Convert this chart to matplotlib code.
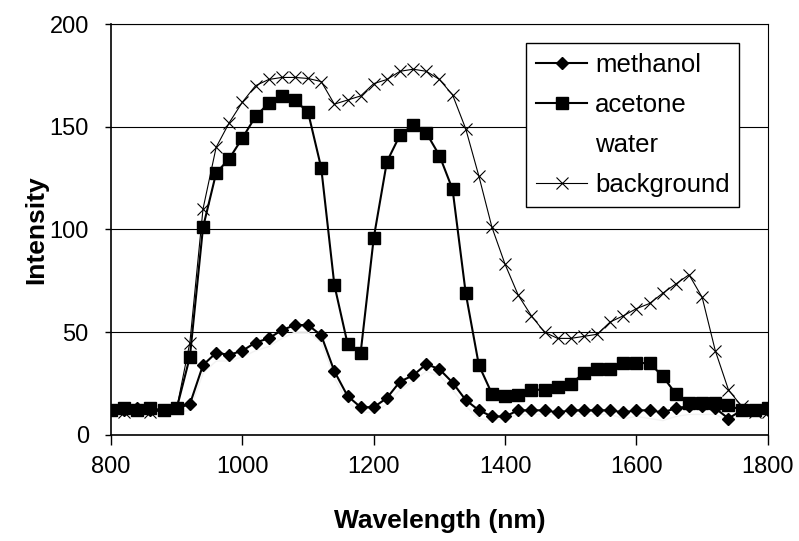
import matplotlib
matplotlib.use("Agg")
import matplotlib.pyplot as plt

plt.rcParams['font.family'] = ['Liberation Sans', 'DejaVu Sans']

# wavelength grid (nm), one reading every 20 nm
wavelength = [800, 820, 840, 860, 880, 900, 920, 940, 960, 980,
              1000, 1020, 1040, 1060, 1080, 1100, 1120, 1140, 1160, 1180,
              1200, 1220, 1240, 1260, 1280, 1300, 1320, 1340, 1360, 1380,
              1400, 1420, 1440, 1460, 1480, 1500, 1520, 1540, 1560, 1580,
              1600, 1620, 1640, 1660, 1680, 1700, 1720, 1740, 1760, 1780, 1800]

methanol = [12, 12, 13, 12, 12, 13, 15, 34, 40, 39,
            41, 45, 47, 51, 53.5, 53.5, 48.5, 31, 19, 13.5,
            13.5, 18, 26, 29, 34.5, 32, 25.5, 17, 12, 9,
            9, 12, 12, 12, 11, 12, 12, 12, 12, 11,
            12, 12, 11, 13, 14, 14, 13, 8, 12, 12, 12]

acetone = [12, 13, 12, 13, 12, 13, 38, 101, 127.5, 134.5,
           144.5, 155, 161.5, 165, 163, 157, 130, 73, 44.5, 40,
           96, 133, 146, 151, 147, 136, 119.5, 69, 34, 20,
           19, 19.5, 22, 22, 23.5, 25, 30, 32, 32, 35,
           35, 35, 28.5, 20, 15.5, 15.5, 15.5, 14.5, 12, 12, 13]

# water trace is almost lost in the scan (faint dots only)
water = [11, 11, 11, 11, 11, 11, 12, 30, 36, 36,
         38, 41, 43, 47, 50, 50, 45, 28, 16, 11,
         11, 15, 22, 26, 31, 29, 22, 14, 8, 7,
         8, 10, 10, 10, 10, 10, 10, 10, 10, 8,
         9, 8, 7, 9, 10, 10, 10, 7, 10, 10, 10]

background = [12, 11, 12, 11, 12, 13, 45, 110, 140, 152,
              162, 170, 173, 174, 174, 173.5, 172, 161, 163, 165,
              171, 173, 177, 178, 177, 173, 165.5, 149, 126, 101,
              83, 68, 58, 50, 47, 47, 48, 49, 55, 58,
              61.5, 64, 69, 73.5, 78, 67, 41, 22, 14, 11, 11]

fig = plt.figure(figsize=(7.99, 5.41), dpi=100)
ax = fig.add_axes([0.139, 0.196, 0.822, 0.7596])

ax.plot(wavelength, water, color="#f2f2f2", lw=1.0, label="water", zorder=1)
ax.plot(wavelength, background, color="black", lw=0.8, marker="x",
        markersize=8, markeredgewidth=0.8, label="background", zorder=2)
ax.plot(wavelength, methanol, color="black", lw=1.5, marker="D",
        markersize=6.5, label="methanol", zorder=3)
ax.plot(wavelength, acetone, color="black", lw=1.5, marker="s",
        markersize=8, label="acetone", zorder=4)

ax.set_xlim(800, 1800)
ax.set_ylim(0, 200)
ax.set_xticks([800, 1000, 1200, 1400, 1600, 1800])
ax.set_yticks([0, 50, 100, 150, 200])
ax.yaxis.grid(True, color="black", lw=0.8)
ax.set_axisbelow(True)

for side in ["left", "bottom"]:
    ax.spines[side].set_linewidth(1.2)
for side in ["top", "right"]:
    ax.spines[side].set_linewidth(0.8)

ax.tick_params(axis="x", direction="out", length=7, width=1, labelsize=17, pad=8)
ax.tick_params(axis="y", direction="out", length=4, width=1, labelsize=17, pad=12)

fig.text(439.5 / 799, 1 - 528 / 541, "Wavelength (nm)", fontsize=19,
         fontweight="bold", ha="center", va="baseline")
fig.text(36 / 799, 1 - 229.5 / 541, "Intensity", fontsize=19,
         fontweight="bold", rotation=90, ha="center", va="center")

handles, labels = ax.get_legend_handles_labels()
order = [labels.index(n) for n in ["methanol", "acetone", "water", "background"]]
leg = ax.legend([handles[i] for i in order], [labels[i] for i in order],
                loc="upper left", bbox_to_anchor=(0.632, 0.954),
                fontsize=18.5, frameon=True, fancybox=False, framealpha=1,
                edgecolor="black", borderpad=0.38, labelspacing=0.63,
                handlelength=2.0, handletextpad=0.3, borderaxespad=0)
leg.get_frame().set_linewidth(1.0)
leg.legend_handles[2].set_alpha(0)

fig.savefig("out.png", dpi=100)
